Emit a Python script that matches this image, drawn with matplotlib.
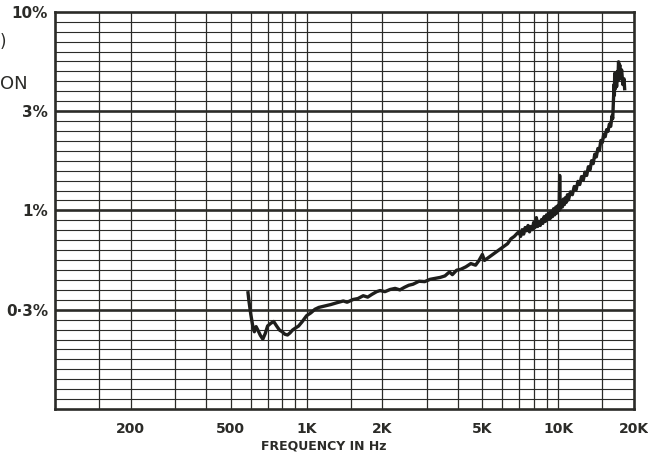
import numpy as np
import matplotlib.pyplot as plt

# measured distortion trace (frequency in Hz, distortion in %)
freq = [585, 590, 600, 610, 620, 630, 640, 655, 670, 685, 700, 720, 740, 760, 780,
        800, 820, 840, 860, 880, 900, 930, 960, 1000, 1040, 1080, 1120, 1180, 1250,
        1320, 1400, 1450, 1530, 1600, 1680, 1750, 1820, 1900, 1960, 2050, 2150, 2250,
        2350, 2450, 2550, 2650, 2800, 2950, 3100, 3250, 3400, 3550, 3700, 3800, 3950,
        4100, 4300, 4500, 4700, 4850, 5000, 5100, 5300, 5500, 5700, 5900, 6100, 6300,
        6500, 6700, 6900,
        7000, 7100, 7200, 7300, 7400, 7500, 7600, 7700, 7800, 7900, 8000, 8100, 8200,
        8300, 8400, 8500, 8600, 8700, 8800, 8900, 9000, 9100, 9200, 9300, 9400, 9500,
        9600, 9700, 9800, 9900, 10000, 10100, 10150, 10200, 10300, 10400, 10500, 10600,
        10700, 10800, 10900, 11000, 11200, 11400, 11600, 11800, 12000, 12200, 12400,
        12600, 12800, 13000, 13200, 13400, 13600, 13800, 14000, 14200, 14400, 14600,
        14800, 15000, 15200, 15400, 15600, 15800, 16000, 16200, 16400, 16500, 16600,
        16700, 16750, 16800, 16900, 17000, 17100, 17200, 17300, 17400, 17500, 17600,
        17700, 17900, 18100, 18300, 18400]
thd = [0.385, 0.35, 0.30, 0.265, 0.245, 0.26, 0.25, 0.235, 0.225, 0.24, 0.262, 0.27,
       0.276, 0.262, 0.25, 0.245, 0.238, 0.236, 0.242, 0.25, 0.255, 0.262, 0.275, 0.295,
       0.305, 0.318, 0.325, 0.33, 0.336, 0.343, 0.35, 0.345, 0.356, 0.36, 0.372, 0.366,
       0.378, 0.39, 0.395, 0.39, 0.40, 0.405, 0.398, 0.41, 0.42, 0.425, 0.44, 0.438,
       0.45, 0.455, 0.46, 0.468, 0.49, 0.475, 0.50, 0.505, 0.52, 0.54, 0.53, 0.56, 0.60,
       0.56, 0.58, 0.60, 0.62, 0.64, 0.66, 0.68, 0.72, 0.74, 0.77,
       0.78, 0.74, 0.80, 0.76, 0.82, 0.79, 0.84, 0.78, 0.83, 0.80, 0.87, 0.82, 0.92,
       0.83, 0.88, 0.84, 0.90, 0.86, 0.93, 0.88, 0.95, 0.90, 0.97, 0.91, 0.99, 0.93,
       1.02, 0.95, 1.04, 0.97, 1.06, 1.00, 1.50, 1.02, 1.10, 1.04, 1.14, 1.07,
       1.16, 1.10, 1.20, 1.13, 1.24, 1.20, 1.32, 1.27, 1.40, 1.35, 1.48,
       1.42, 1.56, 1.50, 1.66, 1.60, 1.78, 1.72, 1.92, 1.86, 2.05, 2.00,
       2.25, 2.20, 2.42, 2.35, 2.55, 2.50, 2.72, 2.65, 3.00, 2.90, 3.50,
       4.30, 3.80, 4.90, 4.10, 4.70, 4.20, 5.00, 4.50, 5.60, 5.00, 5.40,
       4.60, 5.10, 4.30, 4.60, 4.10]

# chart paper grid
vgrid = [150, 200, 300, 400, 500, 600, 700, 800, 900, 1000, 1500, 2000, 3000,
         4000, 5000, 6000, 7000, 8000, 9000, 10000, 15000]
grid_db = list(range(-59, -20))
major_db = [-50, -40, -30]

xticks = [200, 500, 1000, 2000, 5000, 10000, 20000]
xtick_labels = ["200", "500", "1K", "2K", "5K", "10K", "20K"]
yticks = [10, 100 * 10 ** (-30 / 20), 1, 100 * 10 ** (-50 / 20)]
ytick_labels = ["10%", "3%", "1%", "0·3%"]

ink = "#2b2b28"
narrow = ["Liberation Sans Narrow", "DejaVu Sans"]

fig = plt.figure(figsize=(6.48, 4.53), dpi=100)
ax = fig.add_axes([0.085, 0.097, 0.893, 0.877])
ax.set_xscale("log")
ax.set_yscale("log")
ax.set_xlim(100, 20000)
ax.set_ylim(0.1, 10)

for f in vgrid:
    ax.axvline(f, color=ink, lw=0.9, zorder=1)
for d in grid_db:
    lw = 1.9 if d in major_db else 0.8
    ax.axhline(100 * 10 ** (d / 20), color=ink, lw=lw, zorder=1)

ax.plot(freq, thd, color="#1e1e1c", lw=2.4, zorder=3, solid_joinstyle="round")

for s in ax.spines.values():
    s.set_linewidth(1.9)
    s.set_color(ink)

ax.minorticks_off()
ax.set_xticks(xticks)
ax.set_xticklabels(xtick_labels, family=narrow, fontsize=10, fontweight="bold", color=ink)
ax.set_yticks(yticks)
ax.set_yticklabels(ytick_labels, family=narrow, fontsize=11, fontweight="bold", color=ink)
ax.tick_params(axis="x", length=0, pad=9)
ax.tick_params(axis="y", length=0, pad=5)
ax.set_xlabel("FREQUENCY IN Hz", family=narrow, fontsize=9, fontweight="bold",
              color=ink, labelpad=3, x=0.465)

# fragments of the side caption at the left edge
fig.text(0.0, 1 - 42 / 453, ")", fontsize=12, color=ink, va="center", ha="left")
fig.text(0.0, 1 - 84 / 453, "ON", fontsize=13, color=ink, va="center", ha="left")

fig.savefig("out.png", dpi=100)
